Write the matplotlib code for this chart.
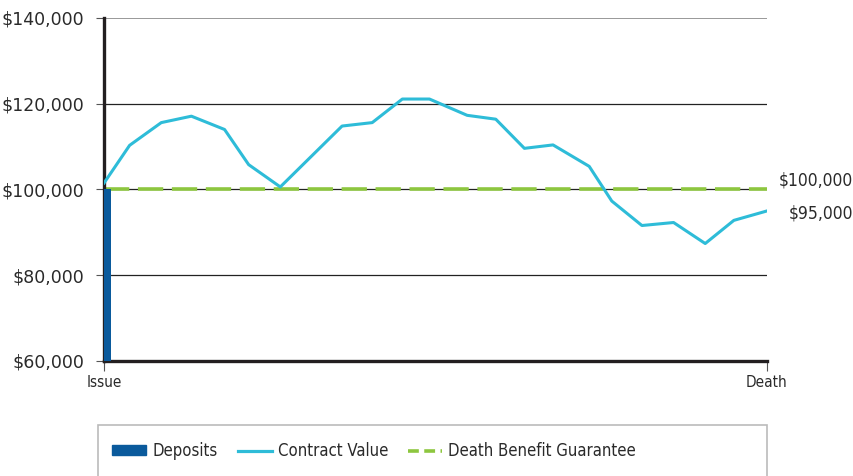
import matplotlib.pyplot as plt
from matplotlib.patches import Rectangle, Patch
from matplotlib.lines import Line2D
from matplotlib.ticker import FuncFormatter

# contract value path from Issue (0) to Death (22)
t = [0, 0.85, 1.9, 2.9, 4.0, 4.8, 5.85, 7.9, 8.9, 9.9, 10.8, 12.05,
     13.0, 13.95, 14.9, 16.1, 16.85, 17.85, 18.9, 19.95, 20.9, 22.0]
value = [101500, 110300, 115600, 117100, 114000, 105800, 100600, 114800,
         115600, 121100, 121100, 117300, 116400, 109600, 110400, 105400,
         97300, 91600, 92300, 87400, 92800, 95000]

deposit = 100000
guarantee = 100000
end_labels = ['$100,000', '$95,000']
end_values = [100000, 95000]
x_labels = ['Issue', 'Death']
legend_labels = ['Deposits', 'Contract Value', 'Death Benefit Guarantee']

blue = '#0A5A9C'
cyan = '#2EBCD8'
green = '#8DC63F'
txt = '#2a2a2a'
narrow = {'family': 'DejaVu Sans', 'stretch': 'condensed'}

fig = plt.figure(figsize=(8.54, 4.76), dpi=100)
ax = fig.add_axes([104/854, 1-361/476, 663/854, 343/476])

for yv in [80000, 100000, 120000]:
    ax.axhline(yv, color='#222222', lw=0.9, zorder=1)
ax.axhline(140000, color='#888888', lw=1.2, zorder=1)

ax.bar([0], [deposit - 60000], bottom=60000, width=0.24, align='edge',
       color=blue, zorder=3)
ax.plot([0, 22], [guarantee, guarantee], color=green, lw=2.6,
        dashes=(7, 2.4), zorder=2)
ax.plot(t, value, color=cyan, lw=2.2, zorder=4)

ax.set_xlim(0, 22)
ax.set_ylim(60000, 140000)
ax.set_yticks([60000, 80000, 100000, 120000, 140000])
ax.yaxis.set_major_formatter(FuncFormatter(lambda v, p: '${:,.0f}'.format(v)))
ax.set_xticks([0, 22])
ax.set_xticklabels(x_labels, fontsize=11, **narrow)

for s in ['top', 'right']:
    ax.spines[s].set_visible(False)
ax.spines['left'].set_linewidth(2.4)
ax.spines['bottom'].set_linewidth(2.4)
ax.spines['left'].set_color('#231f20')
ax.spines['bottom'].set_color('#231f20')
ax.tick_params(axis='y', length=6, width=0.8, color='#555555',
               labelsize=12.5, labelcolor=txt, pad=8)
ax.tick_params(axis='x', length=7, width=0.8, color='#555555',
               labelcolor=txt, pad=3)

# end labels, nudged apart
for lab, yv, dy in zip(end_labels, end_values, [9, -3]):
    ax.annotate(lab, xy=(22, yv), xycoords='data', xytext=(853, dy),
                textcoords=('figure pixels', 'offset pixels'),
                ha='right', va='center', fontsize=12.5, color=txt,
                annotation_clip=False, **narrow)

fig.patches.append(Rectangle((98/854, -0.05), 669/854, 0.05 + 1-425/476,
                             transform=fig.transFigure, fill=False,
                             edgecolor='#bbbbbb', lw=1.2))

handles = [Patch(facecolor=blue, edgecolor=blue),
           Line2D([], [], color=cyan, lw=2.3),
           Line2D([], [], color=green, lw=2.6, dashes=(3, 1.5))]
for h, lab, x0 in zip(handles, legend_labels, [112, 238, 408]):
    fig.legend([h], [lab], loc='center left',
               bbox_to_anchor=(x0/854, 1-451/476), frameon=False,
               prop={'size': 12, **narrow}, handlelength=2.05,
               handleheight=0.5, handletextpad=0.35, borderpad=0,
               borderaxespad=0, labelcolor=txt)

fig.savefig('out.png', dpi=100)
